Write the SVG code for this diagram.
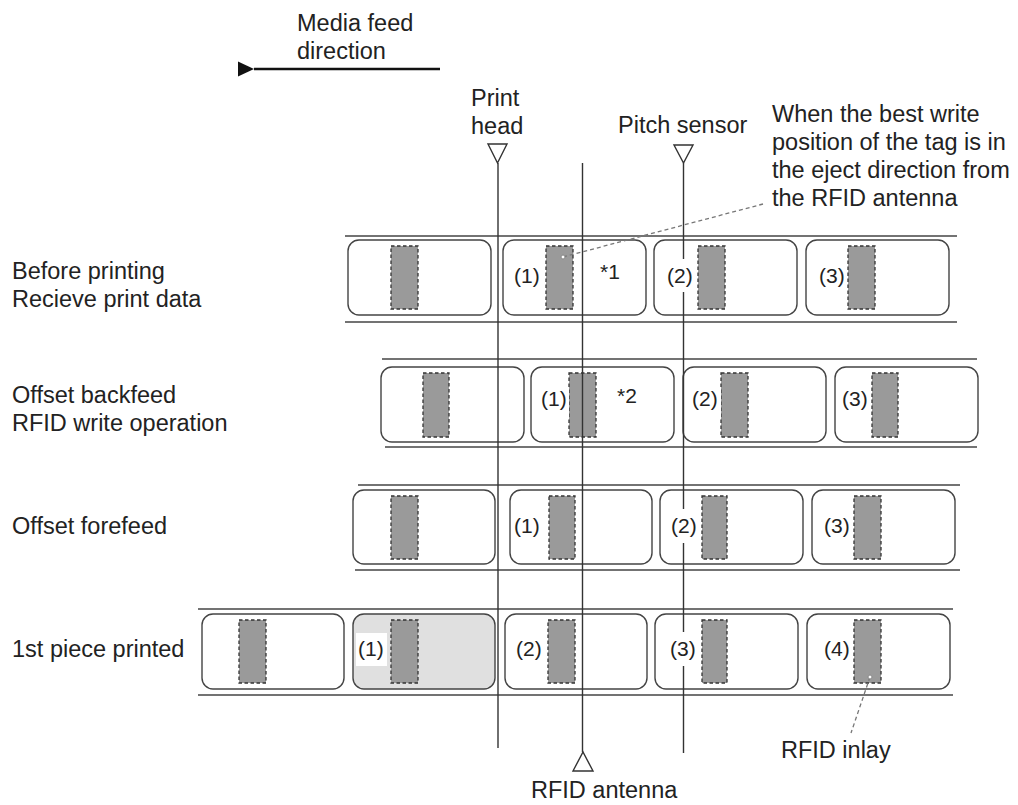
<svg xmlns="http://www.w3.org/2000/svg" width="1018" height="805" viewBox="0 0 1018 805">
<style>
text{font-family:"Liberation Sans",Arial,sans-serif;fill:#222}
.t{font-size:23.5px}
.n{font-size:21px}
.tape{stroke:#444;stroke-width:1.5;fill:none}
.lbl{fill:#fff;stroke:#444;stroke-width:1.4}
.lblp{fill:#e0e0e0;stroke:#444;stroke-width:1.4}
.inl{fill:#9a9a9a;stroke:#333;stroke-width:1.3;stroke-dasharray:3.5,2.5}
.bg{fill:#fff}
.v{stroke:#333;stroke-width:1.4;fill:none}
.tri{fill:#fff;stroke:#333;stroke-width:1.4}
.lead{stroke:#777;stroke-width:1.3;stroke-dasharray:4,3;fill:none}
</style>
<defs>
<marker id="ah" markerWidth="16" markerHeight="16" refX="0" refY="7.5" orient="auto" markerUnits="userSpaceOnUse">
<path d="M16,0 L0,7.5 L16,15 Z" fill="#111"/>
</marker>
</defs>
<rect width="1018" height="805" fill="#fff"/>

<g id="feed-direction">
<text class="t" x="297" y="31">Media feed</text>
<text class="t" x="297" y="59">direction</text>
</g>
<g id="print-head">
<text class="t" x="471" y="106">Print</text>
<text class="t" x="471" y="134">head</text>
<polygon class="tri" points="488,144 507,144 497.5,163"/>
</g>
<g id="pitch-sensor">
<text class="t" x="618" y="133">Pitch sensor</text>
<polygon class="tri" points="674,145 693,145 683.5,163"/>
</g>
<g id="note">
<text class="t" x="772" y="122">When the best write</text>
<text class="t" x="772" y="150">position of the tag is in</text>
<text class="t" x="772" y="178">the eject direction from</text>
<text class="t" x="772" y="206">the RFID antenna</text>
</g>
<g id="rfid-antenna">
<polygon class="tri" points="573,771 593,771 583,752"/>
<text class="t" x="531" y="798">RFID antenna</text>
</g>
<g id="rfid-inlay-label">
<text class="t" x="781" y="758">RFID inlay</text>
</g>

<g id="row1">
<text class="t" x="12" y="279">Before printing</text>
<text class="t" x="12" y="307">Recieve print data</text>
<line class="tape" x1="345" y1="236" x2="957" y2="236"/>
<line class="tape" x1="345" y1="322" x2="957" y2="322"/>
<rect class="lbl" x="348" y="240" width="143" height="75" rx="11"/>
<rect class="lbl" x="503" y="240" width="143" height="75" rx="11"/>
<rect class="lbl" x="654" y="240" width="143" height="75" rx="11"/>
<rect class="lbl" x="806" y="240" width="143" height="75" rx="11"/>
<rect class="inl" x="391" y="246" width="27" height="63"/>
<rect class="inl" x="546" y="246" width="27" height="63"/>
<rect class="inl" x="698" y="246" width="27" height="63"/>
<rect class="inl" x="848" y="246" width="27" height="63"/>
</g>

<g id="row2">
<text class="t" x="12" y="403">Offset backfeed</text>
<text class="t" x="12" y="431">RFID write operation</text>
<line class="tape" x1="382" y1="359" x2="977" y2="359"/>
<line class="tape" x1="385" y1="447" x2="977" y2="447"/>
<rect class="lbl" x="381" y="367" width="143" height="75" rx="11"/>
<rect class="lbl" x="531" y="367" width="143" height="75" rx="11"/>
<rect class="lbl" x="683" y="367" width="143" height="75" rx="11"/>
<rect class="lbl" x="835" y="367" width="143" height="75" rx="11"/>
<rect class="inl" x="423" y="373" width="26" height="64"/>
<rect class="inl" x="569" y="373" width="27" height="64"/>
<rect class="inl" x="721" y="373" width="27" height="64"/>
<rect class="inl" x="872" y="373" width="26" height="64"/>
</g>

<g id="row3">
<text class="t" x="12" y="534">Offset forefeed</text>
<line class="tape" x1="358" y1="485" x2="960" y2="485"/>
<line class="tape" x1="355" y1="570" x2="960" y2="570"/>
<rect class="lbl" x="353" y="490" width="142" height="74" rx="11"/>
<rect class="lbl" x="510" y="490" width="142" height="74" rx="11"/>
<rect class="lbl" x="660" y="490" width="143" height="74" rx="11"/>
<rect class="lbl" x="812" y="490" width="143" height="74" rx="11"/>
<rect class="inl" x="391" y="496" width="27" height="63"/>
<rect class="inl" x="549" y="496" width="26" height="63"/>
<rect class="inl" x="702" y="496" width="25" height="63"/>
<rect class="inl" x="854" y="496" width="27" height="63"/>
</g>

<g id="row4">
<text class="t" x="12" y="657">1st piece printed</text>
<line class="tape" x1="198" y1="609" x2="953" y2="609"/>
<line class="tape" x1="198" y1="695" x2="953" y2="695"/>
<rect class="lbl" x="202" y="614" width="142" height="75" rx="11"/>
<rect class="lblp" x="353" y="614" width="142" height="75" rx="11"/>
<rect class="lbl" x="505" y="614" width="142" height="75" rx="11"/>
<rect class="lbl" x="655" y="614" width="143" height="75" rx="11"/>
<rect class="lbl" x="807" y="614" width="143" height="75" rx="11"/>
<rect class="inl" x="239" y="620" width="27" height="63"/>
<rect class="inl" x="391" y="620" width="27" height="63"/>
<rect class="inl" x="548" y="620" width="27" height="63"/>
<rect class="inl" x="702" y="620" width="25" height="63"/>
<rect class="inl" x="854" y="620" width="27" height="63"/>
</g>

<g id="connectors">
<line x1="440" y1="69" x2="254" y2="69" stroke="#111" stroke-width="2.6" marker-end="url(#ah)"/>
<line class="v" x1="498" y1="163" x2="498" y2="748"/>
<line class="v" x1="582.5" y1="163" x2="582.5" y2="752"/>
<line class="v" x1="683.5" y1="163" x2="683.5" y2="753"/>
<line class="lead" x1="563" y1="257" x2="763" y2="204"/>
<circle cx="563" cy="257" r="2" fill="#fff" stroke="#888" stroke-width="1"/>
<line class="lead" x1="870" y1="677" x2="851" y2="733"/>
<circle cx="870" cy="677" r="2" fill="#fff" stroke="#888" stroke-width="1"/>
</g>

<g id="marks">
<rect class="bg" x="512" y="263" width="30" height="31"/>
<text class="n" x="514" y="283">(1)</text>
<text class="n" x="600" y="279">*1</text>
<rect class="bg" x="665" y="259" width="31" height="33"/>
<text class="n" x="667" y="283">(2)</text>
<rect class="bg" x="817" y="263" width="30" height="31"/>
<text class="n" x="819" y="283">(3)</text>

<rect class="bg" x="539" y="387" width="30" height="31"/>
<text class="n" x="541" y="406">(1)</text>
<text class="n" x="617" y="403">*2</text>
<rect class="bg" x="690" y="387" width="31" height="31"/>
<text class="n" x="692" y="406">(2)</text>
<rect class="bg" x="840" y="387" width="30" height="31"/>
<text class="n" x="842" y="406">(3)</text>

<rect class="bg" x="512" y="513" width="30" height="31"/>
<text class="n" x="514" y="533">(1)</text>
<rect class="bg" x="669" y="509" width="31" height="34"/>
<text class="n" x="671" y="533">(2)</text>
<rect class="bg" x="822" y="513" width="30" height="31"/>
<text class="n" x="824" y="533">(3)</text>

<rect class="bg" x="356" y="633" width="31" height="33"/>
<text class="n" x="358" y="656">(1)</text>
<rect class="bg" x="514" y="637" width="30" height="31"/>
<text class="n" x="516" y="656">(2)</text>
<rect class="bg" x="668" y="632" width="31" height="34"/>
<text class="n" x="670" y="656">(3)</text>
<rect class="bg" x="822" y="637" width="30" height="31"/>
<text class="n" x="824" y="656">(4)</text>
</g>
</svg>
